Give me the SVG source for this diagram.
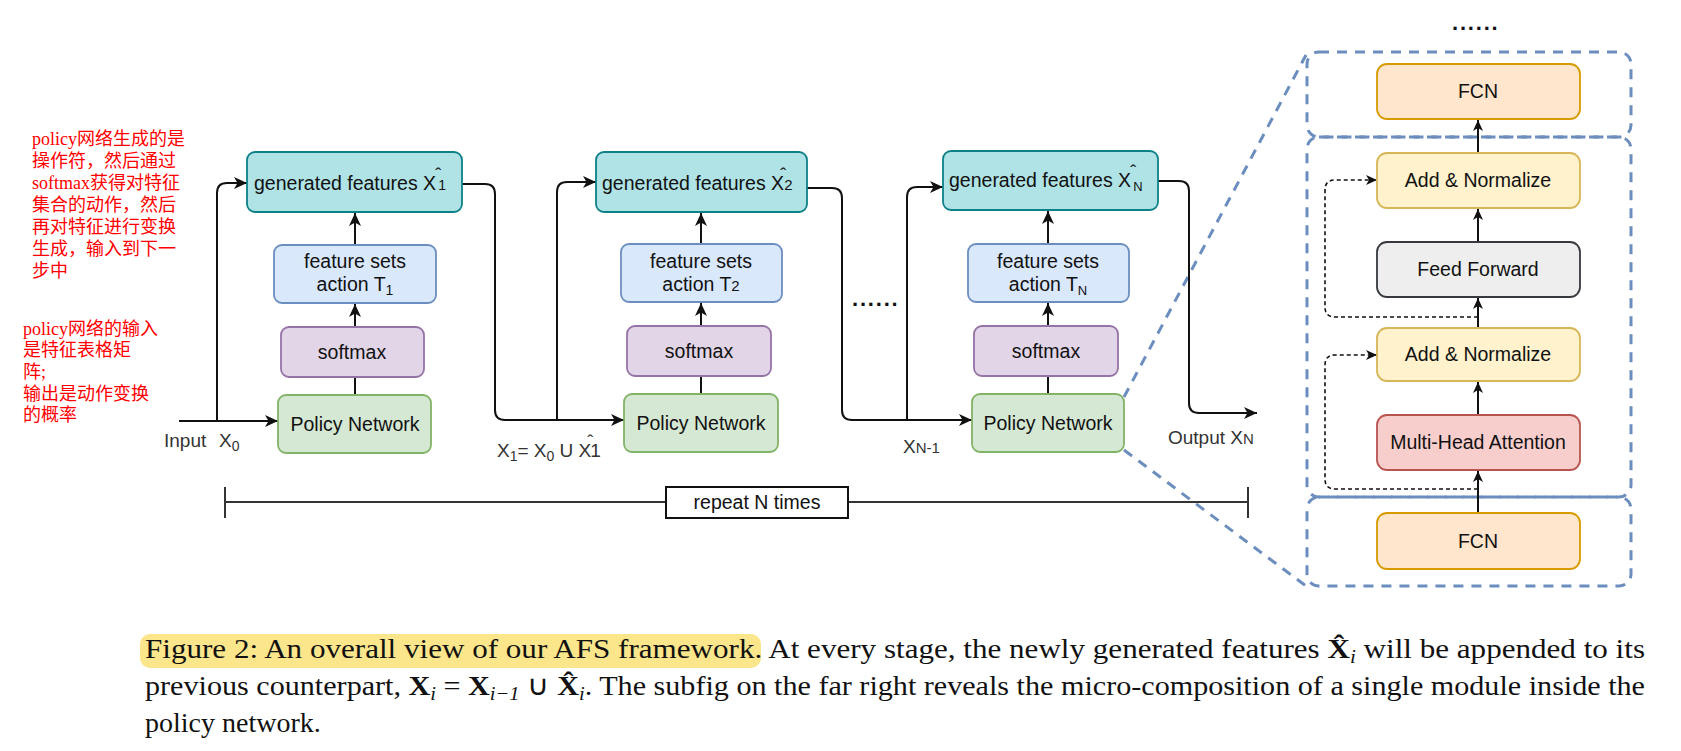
<svg xmlns="http://www.w3.org/2000/svg" width="1681" height="751" viewBox="0 0 1681 751">
<style>
text{font-family:"Liberation Sans",Arial,sans-serif;fill:#111}
.n{font-size:19.5px;text-anchor:middle}
.g{font-size:19.5px}
rect.b{stroke-width:1.8}
.gen{fill:#b0e3e6;stroke:#0e8088}
.fs{fill:#dae8fc;stroke:#6c8ebf}
.sm{fill:#e1d5e7;stroke:#9673a6}
.pn{fill:#d5e8d4;stroke:#82b366}
.fcn{fill:#ffe6cc;stroke:#d79b00}
.an{fill:#fff2cc;stroke:#d6b656}
.ff{fill:#eeeeee;stroke:#36393d}
.mha{fill:#f8cecc;stroke:#b85450}
.c{fill:none;stroke:#111;stroke-width:2}
.d{fill:none;stroke:#111;stroke-width:1.6;stroke-dasharray:4 3}
.bd{fill:none;stroke:#6c8ebf;stroke-width:3;stroke-dasharray:10 8}
.lbl{font-size:19px;fill:#333}
.cn{font-family:"Liberation Serif","Noto Sans CJK SC",serif;font-size:18px;fill:#f00}
.cap{font-family:"Liberation Serif","Times New Roman",serif;font-size:28px;fill:#111}
.dots{font-weight:bold;font-size:22px;letter-spacing:1.8px}
</style>
<defs>
<marker id="a" viewBox="0 0 13 12" refX="13" refY="6" markerWidth="13" markerHeight="12" markerUnits="userSpaceOnUse" orient="auto"><path d="M0,0 L13,6 L0,12 L3.5,6 Z" fill="#111"/></marker>
<marker id="s" viewBox="0 0 11 10" refX="11" refY="5" markerWidth="11" markerHeight="10" markerUnits="userSpaceOnUse" orient="auto"><path d="M0,0 L11,5 L0,10 L3,5 Z" fill="#111"/></marker>
</defs>

<!-- annotations -->
<g id="note1">
<text class="cn" x="32" y="145">policy网络生成的是</text>
<text class="cn" x="32" y="167">操作符，然后通过</text>
<text class="cn" x="32" y="189">softmax获得对特征</text>
<text class="cn" x="32" y="211">集合的动作，然后</text>
<text class="cn" x="32" y="233">再对特征进行变换</text>
<text class="cn" x="32" y="255">生成，输入到下一</text>
<text class="cn" x="32" y="277">步中</text>
</g>
<g id="note2">
<text class="cn" x="23" y="335">policy网络的输入</text>
<text class="cn" x="23" y="356">是特征表格矩</text>
<text class="cn" x="23" y="378">阵;</text>
<text class="cn" x="23" y="400">输出是动作变换</text>
<text class="cn" x="23" y="421">的概率</text>
</g>

<!-- zoom lines and dashed frames -->
<g id="zoom">
<path class="bd" d="M1124,397 L1306,55"/>
<path class="bd" d="M1124,450 L1306,586"/>
<rect class="bd" x="1307" y="52" width="324" height="85" rx="12"/>
<rect class="bd" x="1307" y="137" width="324" height="360" rx="12"/>
<rect class="bd" x="1307" y="497" width="324" height="89" rx="12"/>
</g>

<!-- connectors -->
<g id="connectors">
<path class="c" d="M179,421 H278" marker-end="url(#a)"/>
<path class="c" d="M217,421 V193 Q217,183 227,183 H247" marker-end="url(#a)"/>
<path class="c" d="M355,395 V377"/>
<path class="c" d="M355,327 V304" marker-end="url(#a)"/>
<path class="c" d="M355,245 V213" marker-end="url(#a)"/>

<path class="c" d="M462,184 H485 Q495,184 495,194 V410 Q495,420 505,420 H624" marker-end="url(#a)"/>
<path class="c" d="M557,420 V192 Q557,182 567,182 H596" marker-end="url(#a)"/>
<path class="c" d="M701,394 V376"/>
<path class="c" d="M701,326 V303" marker-end="url(#a)"/>
<path class="c" d="M701,244 V213" marker-end="url(#a)"/>

<path class="c" d="M807,188 H832 Q842,188 842,198 V410 Q842,420 852,420 H972" marker-end="url(#a)"/>
<path class="c" d="M907,420 V197 Q907,187 917,187 H943" marker-end="url(#a)"/>
<path class="c" d="M1048,394 V376"/>
<path class="c" d="M1048,326 V303" marker-end="url(#a)"/>
<path class="c" d="M1048,244 V211" marker-end="url(#a)"/>

<path class="c" d="M1158,181 H1179 Q1189,181 1189,191 V403 Q1189,413 1199,413 H1257" marker-end="url(#a)"/>

<path class="c" d="M1478,513 V471" marker-end="url(#s)"/>
<path class="c" d="M1478,415 V382" marker-end="url(#s)"/>
<path class="c" d="M1478,328 V298" marker-end="url(#s)"/>
<path class="c" d="M1478,242 V209" marker-end="url(#s)"/>
<path class="c" d="M1478,153 V120" marker-end="url(#s)"/>
<path class="d" d="M1478,489 H1335 Q1325,489 1325,479 V365 Q1325,355 1335,355 H1377" marker-end="url(#s)"/>
<path class="d" d="M1478,317 H1335 Q1325,317 1325,307 V190 Q1325,180 1335,180 H1377" marker-end="url(#s)"/>

<path class="c" style="stroke:#333" d="M225,502 H666 M848,502 H1248 M225,487 V518 M1248,487 V518"/>
</g>

<!-- stage 1 -->
<g id="gen1"><rect class="b gen" x="247" y="152" width="215" height="60" rx="8"/>
<text class="g" x="254" y="190">generated features X<tspan font-size="18" dx="-1" dy="-9">ˆ</tspan><tspan font-size="14" dx="-3" dy="9">1</tspan></text></g>
<g id="fs1"><rect class="b fs" x="274" y="245" width="162" height="58" rx="8"/>
<text class="n" x="355" y="268">feature sets</text><text class="n" x="355" y="291">action T<tspan font-size="14" dy="4">1</tspan></text></g>
<g id="sm1"><rect class="b sm" x="281" y="327" width="143" height="50" rx="8"/><text class="n" x="352" y="359">softmax</text></g>
<g id="pn1"><rect class="b pn" x="278" y="395" width="153" height="58" rx="8"/><text class="n" x="355" y="431">Policy Network</text></g>

<!-- stage 2 -->
<g id="gen2"><rect class="b gen" x="596" y="152" width="211" height="60" rx="8"/>
<text class="g" x="602" y="190">generated features X<tspan font-size="18" dx="-4" dy="-9">ˆ</tspan><tspan font-size="15" dx="-2" dy="9">2</tspan></text></g>
<g id="fs2"><rect class="b fs" x="621" y="244" width="161" height="58" rx="8"/>
<text class="n" x="701" y="268">feature sets</text><text class="n" x="701" y="291">action T<tspan font-size="15">2</tspan></text></g>
<g id="sm2"><rect class="b sm" x="627" y="326" width="144" height="50" rx="8"/><text class="n" x="699" y="358">softmax</text></g>
<g id="pn2"><rect class="b pn" x="624" y="394" width="154" height="58" rx="8"/><text class="n" x="701" y="430">Policy Network</text></g>

<!-- stage N -->
<g id="genN"><rect class="b gen" x="943" y="151" width="215" height="59" rx="8"/>
<text class="g" x="949" y="187">generated features X<tspan font-size="18" dx="-1" dy="-9">ˆ</tspan><tspan font-size="13" dx="-3" dy="13">N</tspan></text></g>
<g id="fsN"><rect class="b fs" x="968" y="244" width="161" height="58" rx="8"/>
<text class="n" x="1048" y="268">feature sets</text><text class="n" x="1048" y="291">action T<tspan font-size="13" dy="4">N</tspan></text></g>
<g id="smN"><rect class="b sm" x="974" y="326" width="144" height="50" rx="8"/><text class="n" x="1046" y="358">softmax</text></g>
<g id="pnN"><rect class="b pn" x="972" y="394" width="152" height="58" rx="8"/><text class="n" x="1048" y="430">Policy Network</text></g>

<g id="dots1"><text class="dots" x="852" y="306">......</text></g>

<!-- labels -->
<g id="labels">
<text class="lbl" x="164" y="447">Input<tspan x="219">X</tspan><tspan font-size="14" dy="4">0</tspan></text>
<text class="lbl" x="497" y="457">X<tspan font-size="14" dy="4">1</tspan><tspan dy="-4">= X</tspan><tspan font-size="14" dy="4">0</tspan><tspan dy="-4"> U X</tspan><tspan font-size="18" dx="-4" dy="-9">ˆ</tspan><tspan dx="-3" dy="9">1</tspan></text>
<text class="lbl" x="903" y="453" font-size="20">X<tspan font-size="15">N-1</tspan></text>
<text class="lbl" x="1168" y="444" font-size="21">Output X<tspan font-size="15">N</tspan></text>
</g>

<g id="repeat"><rect x="666" y="487" width="182" height="31" fill="#fff" stroke="#111" stroke-width="2"/><text class="n" x="757" y="509">repeat N times</text></g>

<!-- right panel -->
<g id="fcnTop"><rect class="b fcn" x="1377" y="64" width="203" height="55" rx="10"/><text class="n" x="1478" y="98">FCN</text></g>
<g id="addNorm1"><rect class="b an" x="1377" y="153" width="203" height="55" rx="10"/><text class="n" x="1478" y="187">Add &amp; Normalize</text></g>
<g id="feedForward"><rect class="b ff" x="1377" y="242" width="203" height="55" rx="10"/><text class="n" x="1478" y="276">Feed Forward</text></g>
<g id="addNorm2"><rect class="b an" x="1377" y="328" width="203" height="53" rx="10"/><text class="n" x="1478" y="361">Add &amp; Normalize</text></g>
<g id="mha"><rect class="b mha" x="1377" y="415" width="203" height="55" rx="10"/><text class="n" x="1478" y="449">Multi-Head Attention</text></g>
<g id="fcnBottom"><rect class="b fcn" x="1377" y="513" width="203" height="56" rx="10"/><text class="n" x="1478" y="548">FCN</text></g>
<g id="dots2"><text class="dots" x="1452" y="30">......</text></g>

<!-- caption -->
<g id="caption">
<rect x="140" y="634" width="621" height="34" rx="10" fill="#fbe68c"/>
<text class="cap" x="145" y="658" textLength="1500" lengthAdjust="spacingAndGlyphs">Figure 2: An overall view of our AFS framework. At every stage, the newly generated features <tspan font-weight="bold">X̂</tspan><tspan font-style="italic" font-size="19" dy="5">i</tspan><tspan dy="-5"> will be appended to its</tspan></text>
<text class="cap" x="145" y="695" textLength="1500" lengthAdjust="spacingAndGlyphs">previous counterpart, <tspan font-weight="bold">X</tspan><tspan font-style="italic" font-size="19" dy="5">i</tspan><tspan dy="-5"> = </tspan><tspan font-weight="bold">X</tspan><tspan font-style="italic" font-size="19" dy="5">i−1</tspan><tspan dy="-5"> ∪ </tspan><tspan font-weight="bold">X̂</tspan><tspan font-style="italic" font-size="19" dy="5">i</tspan><tspan dy="-5">. The subfig on the far right reveals the micro-composition of a single module inside the</tspan></text>
<text class="cap" x="145" y="732">policy network.</text>
</g>
</svg>
